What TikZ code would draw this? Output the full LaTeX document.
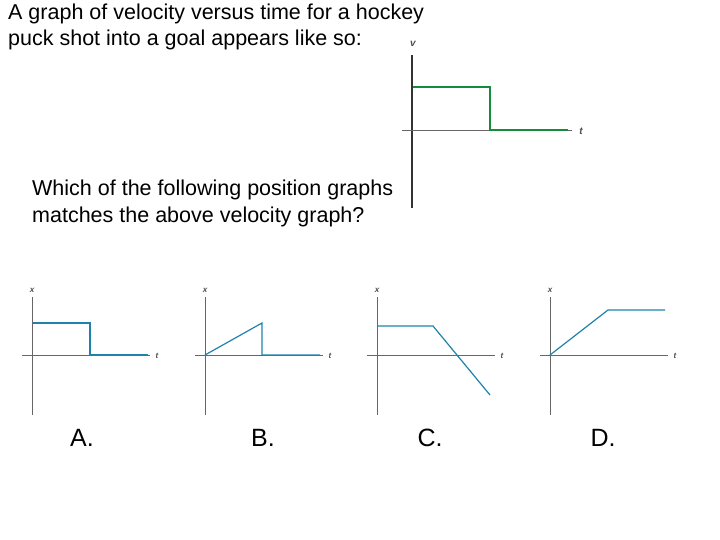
\documentclass[tikz,border=0pt]{standalone}
\usepackage{fontspec}
\setmainfont{Liberation Sans}
\definecolor{grn}{RGB}{20,140,60}
\definecolor{blu}{RGB}{30,130,170}
\begin{document}
\begin{tikzpicture}[x=1pt,y=-1pt,
  txt/.style={anchor=west,inner sep=0,font=\fontsize{21.5}{24}\selectfont},
  ax/.style={draw=black!60,line width=0.6pt},
  lbl/.style={font=\fontsize{8}{9}\selectfont\itshape\bfseries,inner sep=0,text=black!70},
  big/.style={font=\fontsize{25}{28}\selectfont,inner sep=0}]
\useasboundingbox (0,0) rectangle (720,540);
\node[txt] (t1) at (8,14) {A graph of velocity versus time for a hockey};
\node[txt] (t2) at (8,40) {puck shot into a goal appears like so:};
\node[txt] (t3) at (32,190) {Which of the following position graphs};
\node[txt] (t4) at (32,217) {matches the above velocity graph?};
% top graph
\draw[ax,draw=black!80,line width=1.5pt] (412,55) -- (412,208);
\draw[ax] (402,130) -- (572,130);
\node[lbl,font=\fontsize{10}{11}\selectfont\itshape\bfseries] (vl) at (413,44) {v};
\node[lbl,font=\fontsize{10}{11}\selectfont\itshape\bfseries] (tl) at (581,131) {t};
\draw[grn,line width=1.5pt] (413,87) -- (490,87) -- (490,130) -- (568,130);
% small graphs
\foreach \x/\n in {32/a,205/b,377/c,550/d}{
  \draw[ax] (\x,297) -- (\x,415);
  \draw[ax] (\x-10,355) -- (\x+118,355);
  \node[lbl] (x\n) at (\x,290) {x};
  \node[lbl] (t\n) at (\x+125,356) {t};
}
\draw[blu,line width=1.2pt] (33,323) -- (90,323) -- (90,355) -- (148,355);
\draw[blu,line width=1.2pt] (205,355) -- (262,323) -- (262,355) -- (320,355);
\draw[blu,line width=1.2pt] (378,326) -- (433,326) -- (490,395);
\draw[blu,line width=1.2pt] (550,355) -- (608,310) -- (665,310);
\node[big] (la) at (82,438) {A.};
\node[big] (lb) at (263,438) {B.};
\node[big] (lc) at (430,438) {C.};
\node[big] (ld) at (603,438) {D.};
\end{tikzpicture}
\end{document}
